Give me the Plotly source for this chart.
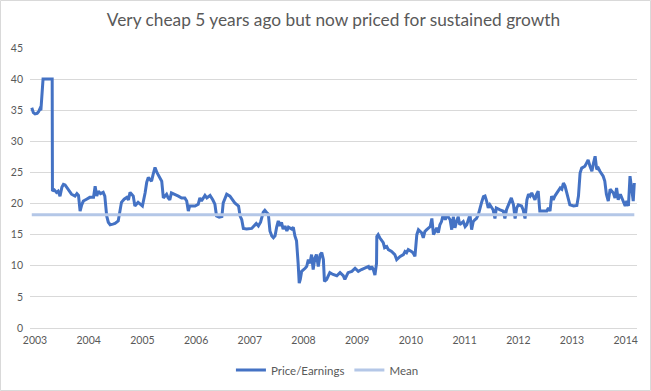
import plotly.graph_objects as go

# Fractional-year dates and Price/Earnings values
years = [
    2002.94, 2002.97, 2003.00, 2003.04, 2003.07, 2003.09, 2003.11, 2003.13, 2003.15, 2003.32,
    2003.325, 2003.36, 2003.40, 2003.43, 2003.466, 2003.50, 2003.53, 2003.56, 2003.62, 2003.66,
    2003.68, 2003.745, 2003.78, 2003.81, 2003.84, 2003.87, 2003.90, 2003.96, 2004.02, 2004.09,
    2004.12, 2004.15, 2004.18, 2004.22, 2004.27, 2004.30, 2004.335, 2004.365, 2004.40, 2004.45,
    2004.49, 2004.55, 2004.58, 2004.61, 2004.66, 2004.71, 2004.74, 2004.77, 2004.80, 2004.83,
    2004.86, 2004.89, 2004.92, 2004.96, 2005.00, 2005.05, 2005.08, 2005.11, 2005.14, 2005.17,
    2005.20, 2005.235, 2005.27, 2005.30, 2005.36, 2005.39, 2005.42, 2005.45, 2005.48, 2005.51,
    2005.54, 2005.60, 2005.67, 2005.73, 2005.79, 2005.825, 2005.855, 2005.88, 2005.98, 2006.04,
    2006.07, 2006.10, 2006.165, 2006.20, 2006.26, 2006.31, 2006.35, 2006.38, 2006.43, 2006.48,
    2006.505, 2006.57, 2006.63, 2006.72, 2006.79, 2006.82, 2006.85, 2006.88, 2006.94, 2007.035,
    2007.09, 2007.12, 2007.16, 2007.20, 2007.25, 2007.28, 2007.31, 2007.345, 2007.375, 2007.41,
    2007.44, 2007.47, 2007.50, 2007.53, 2007.56, 2007.59, 2007.62, 2007.655, 2007.69, 2007.72,
    2007.78, 2007.81, 2007.84, 2007.87, 2007.90, 2007.92, 2007.94, 2007.965, 2008.03, 2008.06,
    2008.09, 2008.12, 2008.15, 2008.18, 2008.21, 2008.24, 2008.275, 2008.31, 2008.34, 2008.37,
    2008.39, 2008.43, 2008.49, 2008.55, 2008.62, 2008.68, 2008.74, 2008.77, 2008.83, 2008.90,
    2008.96, 2009.02, 2009.08, 2009.145, 2009.21, 2009.24, 2009.27, 2009.30, 2009.33, 2009.36,
    2009.365, 2009.39, 2009.42, 2009.485, 2009.51, 2009.55, 2009.58, 2009.64, 2009.70, 2009.735,
    2009.80, 2009.86, 2009.89, 2009.92, 2009.95, 2010.01, 2010.04, 2010.075, 2010.11, 2010.14,
    2010.20, 2010.23, 2010.26, 2010.295, 2010.36, 2010.39, 2010.42, 2010.45, 2010.48, 2010.51,
    2010.54, 2010.57, 2010.60, 2010.64, 2010.67, 2010.73, 2010.76, 2010.79, 2010.82, 2010.85,
    2010.88, 2010.91, 2010.975, 2011.01, 2011.04, 2011.07, 2011.10, 2011.13, 2011.16, 2011.19,
    2011.22, 2011.255, 2011.29, 2011.32, 2011.35, 2011.38, 2011.41, 2011.44, 2011.47, 2011.53,
    2011.565, 2011.59, 2011.66, 2011.72, 2011.75, 2011.78, 2011.845, 2011.87, 2011.91, 2011.94,
    2011.97, 2012.00, 2012.06, 2012.09, 2012.125, 2012.16, 2012.19, 2012.22, 2012.25, 2012.28,
    2012.31, 2012.34, 2012.37, 2012.40, 2012.46, 2012.53, 2012.56, 2012.59, 2012.62, 2012.65,
    2012.68, 2012.75, 2012.78, 2012.81, 2012.84, 2012.87, 2012.90, 2012.93, 2012.96, 2013.03,
    2013.09, 2013.12, 2013.15, 2013.18, 2013.24, 2013.27, 2013.30, 2013.335, 2013.37, 2013.40,
    2013.43, 2013.46, 2013.49, 2013.52, 2013.58, 2013.61, 2013.64, 2013.675, 2013.71, 2013.77,
    2013.80, 2013.83, 2013.86, 2013.90, 2013.93, 2013.96, 2013.99, 2014.02, 2014.05, 2014.08,
    2014.11, 2014.14, 2014.16,
]

pe_values = [
    35.4, 34.6, 34.4, 34.5, 34.8, 35.2, 35.0, 38.0, 40.0, 40.0,
    22.0, 22.2, 21.8, 22.0, 21.2, 22.6, 23.1, 23.0, 22.3, 21.8,
    21.5, 21.2, 21.6, 21.3, 18.8, 19.8, 20.4, 20.7, 21.0, 21.0,
    22.8, 21.2, 22.0, 21.6, 21.8, 21.2, 18.0, 17.0, 16.6, 16.7,
    16.8, 17.2, 18.5, 20.2, 20.7, 21.0, 20.6, 21.8, 21.5, 21.2,
    19.6, 20.0, 20.2, 19.9, 19.6, 21.7, 23.4, 24.2, 23.8, 23.6,
    24.7, 25.8, 25.0, 24.5, 23.6, 20.9, 21.3, 21.5, 20.9, 20.6,
    21.7, 21.5, 21.2, 20.9, 20.9, 20.4, 18.8, 19.6, 19.6, 19.9,
    20.9, 20.4, 21.3, 20.9, 21.3, 20.6, 19.9, 18.0, 17.8, 17.9,
    20.1, 21.5, 21.2, 20.1, 19.6, 18.0, 17.4, 16.0, 15.9, 16.0,
    16.6, 16.8, 16.4, 17.0, 18.6, 18.9, 18.6, 18.3, 15.6, 14.8,
    14.5, 14.8, 16.2, 17.2, 16.4, 17.0, 15.9, 16.4, 15.6, 16.2,
    15.9, 16.2, 14.8, 14.0, 10.4, 7.2, 7.8, 9.1, 9.6, 9.9,
    11.0, 10.4, 11.8, 9.4, 11.2, 11.8, 9.9, 11.8, 12.1, 11.0,
    7.5, 7.8, 8.9, 8.6, 8.4, 8.9, 8.4, 7.8, 8.9, 9.1,
    9.6, 9.1, 9.4, 9.6, 9.9, 9.4, 9.9, 9.4, 8.5, 10.4,
    14.7, 15.0, 14.5, 13.7, 12.9, 13.1, 12.6, 12.3, 11.8, 11.0,
    11.5, 11.8, 12.3, 12.1, 12.6, 12.3, 12.1, 11.5, 15.0, 15.8,
    15.3, 14.5, 15.5, 15.8, 16.3, 17.6, 15.0, 15.5, 16.1, 15.3,
    16.6, 17.1, 18.2, 17.4, 18.2, 17.4, 15.8, 17.9, 16.1, 17.1,
    17.9, 16.6, 17.1, 16.3, 16.6, 17.4, 18.2, 15.8, 17.1, 17.4,
    17.6, 18.2, 19.5, 20.3, 21.1, 21.2, 20.4, 19.3, 19.8, 19.0,
    17.6, 19.3, 19.0, 18.8, 17.6, 19.0, 20.4, 20.9, 19.8, 17.6,
    19.3, 19.8, 19.6, 19.0, 17.6, 20.6, 21.5, 21.2, 21.7, 21.2,
    20.6, 21.5, 22.0, 18.8, 18.8, 18.8, 19.3, 18.8, 21.2, 20.6,
    21.2, 22.0, 22.5, 22.3, 23.3, 22.8, 21.7, 20.4, 19.8, 19.6,
    19.7, 21.2, 24.9, 25.7, 26.0, 26.5, 27.0, 26.0, 25.2, 26.5,
    27.6, 25.5, 25.7, 25.2, 24.4, 23.6, 21.5, 20.4, 22.3, 21.7,
    20.9, 22.5, 20.6, 21.5, 20.9, 20.4, 19.6, 20.4, 19.6, 24.4,
    22.3, 20.4, 23.3,
]

mean_value = 18.2
tick_years = list(range(2003, 2015))
tick_labels = [str(y) for y in tick_years]
y_ticks = list(range(0, 50, 5))

grey = "#595959"
grid = "#D9D9D9"

fig = go.Figure()
fig.add_trace(go.Scatter(
    x=years, y=pe_values, mode="lines", name="Price/Earnings",
    line=dict(color="#4472C4", width=3),
))
fig.add_trace(go.Scatter(
    x=[years[0], years[-1]], y=[mean_value, mean_value], mode="lines", name="Mean",
    line=dict(color="#B4C7E7", width=3),
))

L, R, T, B = 30, 14, 48, 63
W, H = 651, 391
pw, ph = W - L - R, H - T - B

fig.update_layout(
    template="none",
    width=W, height=H,
    margin=dict(l=L, r=R, t=T, b=B, autoexpand=False),
    paper_bgcolor="white", plot_bgcolor="white",
    font=dict(family="Lato, Calibri, sans-serif", color=grey, size=11),
    title=dict(text="Very cheap 5 years ago but now priced for sustained growth",
               x=0.5, xanchor="center", xref="paper", y=1 - 20 / H, yanchor="middle",
               font=dict(size=17.3, color=grey)),
    xaxis=dict(range=[2002.907, 2014.21], tickmode="array", tickvals=tick_years,
               ticktext=tick_labels, showgrid=False, zeroline=False, showline=True,
               linecolor=grid, linewidth=1, ticks="", automargin=False,
               ticklabelstandoff=2, tickfont=dict(size=10.5, color=grey)),
    yaxis=dict(range=[0, 45], tickmode="array", tickvals=y_ticks, showgrid=True,
               gridcolor=grid, gridwidth=1, zeroline=False, showline=False, ticks="",
               automargin=False, ticklabelstandoff=6, tickfont=dict(size=10.5, color=grey)),
    legend=dict(orientation="h", x=0.49, xanchor="center", y=-0.15, yanchor="middle",
                font=dict(size=11.5, color=grey), bgcolor="rgba(0,0,0,0)"),
    shapes=[dict(type="rect", xref="paper", yref="paper",
                 x0=(-L + 0.5) / pw, x1=1 + (R - 0.5) / pw,
                 y0=(-B + 0.5) / ph, y1=1 + (T - 0.5) / ph,
                 line=dict(color=grid, width=1), fillcolor="rgba(0,0,0,0)", layer="below")],
)

fig.write_html("out.html",
               config={"displayModeBar": False},
               post_script="document.body.style.margin='0';document.body.style.overflow='hidden';")
